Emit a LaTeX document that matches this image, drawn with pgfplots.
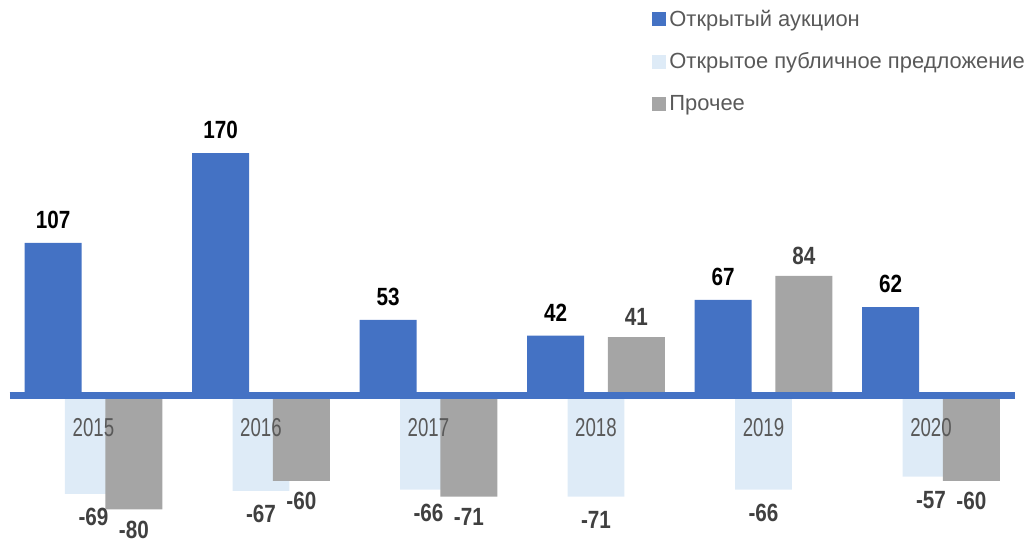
\documentclass[border=0pt]{standalone}
\usepackage{fontspec}
\setmainfont{Liberation Sans}
\newfontfamily\yearfont{Liberation Sans}[FakeStretch=0.72]
\newfontfamily\valfont{Liberation Sans}[FakeStretch=0.83]
\usepackage{pgfplots}
\pgfplotsset{compat=1.18}

\definecolor{auction}{HTML}{4472C4}
\definecolor{offer}{HTML}{DEEBF7}
\definecolor{other}{HTML}{A5A5A5}
\definecolor{txtgray}{HTML}{595959}
\definecolor{valgray}{HTML}{404040}

\begin{document}
\begin{tikzpicture}[
		year/.style={text=txtgray, inner sep=0pt,
				font=\yearfont\fontsize{26}{26}\selectfont},
	]
	\begin{axis}[
			width=1032bp, height=544bp,
			scale only axis,
			xmin=-0.558, xmax=5.603,
			ymin=-104.2, ymax=277.5,
			axis line style={draw=none},
			xtick=\empty, ytick=\empty,
			clip=false,
			ybar,
			bar width=0.34,
			/pgf/number format/assume math mode=true,
			nodes near coords,
			every node near coord/.append style={
					font=\valfont\bfseries\fontsize{25}{25}\selectfont,
					inner ysep=14bp, inner xsep=0pt,
				},
			legend style={
					draw=none, fill=none,
					at={(rel axis cs:0.632,0.982)}, anchor=north west,
					font=\fontsize{22}{26}\selectfont,
					text=txtgray,
					row sep=25bp,
					inner sep=0pt,
					nodes={inner xsep=3bp, inner ysep=0pt},
				},
			legend cell align=left,
			legend image code/.code={
					\fill[#1,draw=none] (0bp,-7bp) rectangle (14bp,7bp);
				},
		]
		% Открытый аукцион
		\addplot[fill=auction, draw=none, bar shift=-0.241,
			every node near coord/.append style={text=black}]
		coordinates {(0,107) (1,170) (2,53) (3,42) (4,67) (5,62)};
		\addlegendentry{Открытый аукцион}
		% Открытое публичное предложение
		\addplot[fill=offer, draw=none, bar shift=0,
			every node near coord/.append style={text=valgray}]
		coordinates {(0,-69) (1,-67) (2,-66) (3,-71) (4,-66) (5,-57)};
		\addlegendentry{Открытое публичное предложение}
		% Прочее
		\addplot[fill=other, draw=none, bar shift=0.241,
			every node near coord/.append style={text=valgray, inner ysep=11bp}]
		coordinates {(0,-80) (1,-60) (2,-71) (3,41) (4,84) (5,-60)};
		\addlegendentry{Прочее}

		% zero line
		\addplot[sharp plot, auction, line width=7bp, forget plot, nodes near coords=]
		coordinates {(-0.5,0) (5.5,0)};

		% year labels
		\node[year] at (axis cs:0,-22.5) {2015};
		\node[year] at (axis cs:1,-22.5) {2016};
		\node[year] at (axis cs:2,-22.5) {2017};
		\node[year] at (axis cs:3,-22.5) {2018};
		\node[year] at (axis cs:4,-22.5) {2019};
		\node[year] at (axis cs:5,-22.5) {2020};
	\end{axis}
	\pgfresetboundingbox
	\path (current axis.south west) rectangle (current axis.north east);
\end{tikzpicture}
\end{document}
